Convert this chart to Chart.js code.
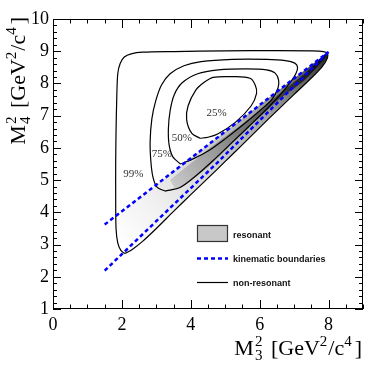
<!DOCTYPE html>
<html lang="en">
<head>
<meta charset="UTF-8">
<title>M3^2 vs M4^2</title>
<script src="https://cdn.jsdelivr.net/npm/chart.js"></script>
<style>
  html, body { margin: 0; padding: 0; background: #fff; }
  #wrap { width: 382px; height: 369px; }
</style>
</head>
<body>
<div id="wrap"><canvas id="dalitz" width="382" height="369"></canvas></div>
<script>
// axis ticks
const xTicks = [0, 2, 4, 6, 8];
const yTicks = [1, 2, 3, 4, 5, 6, 7, 8, 9, 10];

// kinematic boundaries
const upperX = [1.5, 8.0];
const upperY = [3.62, 8.98];
const lowerX = [1.5, 4.75, 8.0];
const lowerY = [2.19, 5.52, 8.98];

// non-resonant contours (closed curves)
const c99x = [2.09, 1.97, 1.88, 1.83, 1.82, 1.82, 1.83, 1.85, 1.88, 1.95, 2.07, 2.27, 2.6, 3.5, 5.0, 6.5, 7.5, 7.85, 7.96, 7.97, 7.8, 7.5, 7.0, 6.5, 6.0, 5.5, 5.0, 4.5, 4.0, 3.5, 3.0, 2.6, 2.3, 2.09];
const c99y = [2.72, 2.82, 3.05, 3.5, 4.5, 5.5, 6.5, 7.5, 8.3, 8.62, 8.82, 8.92, 8.97, 8.99, 9.01, 9.02, 9.01, 8.99, 8.94, 8.8, 8.5, 8.17, 7.66, 7.15, 6.63, 6.1, 5.58, 5.06, 4.55, 4.03, 3.5, 3.1, 2.85, 2.72];
const c75x = [3.25, 3.02, 2.9, 2.84, 2.82, 2.87, 2.98, 3.15, 3.4, 3.8, 4.3, 5.2, 6.2, 6.75, 7.02, 7.1, 7.05, 6.9, 6.6, 6.2, 5.7, 5.2, 4.7, 4.2, 3.7, 3.25];
const c75y = [4.66, 4.78, 5.1, 5.6, 6.2, 6.9, 7.45, 7.95, 8.3, 8.55, 8.68, 8.75, 8.75, 8.71, 8.63, 8.5, 8.3, 8.05, 7.65, 7.2, 6.68, 6.17, 5.66, 5.18, 4.78, 4.66];
const c50x = [3.7, 3.48, 3.37, 3.35, 3.4, 3.52, 3.75, 4.2, 4.8, 5.6, 6.2, 6.45, 6.55, 6.53, 6.35, 6.0, 5.5, 5.0, 4.5, 4.05, 3.7];
const c50y = [5.5, 5.72, 6.1, 6.6, 7.15, 7.65, 8.02, 8.3, 8.42, 8.45, 8.42, 8.32, 8.1, 7.85, 7.5, 7.15, 6.7, 6.28, 5.9, 5.65, 5.5];
const c25x = [4.27, 4.03, 3.88, 3.92, 4.15, 4.38, 4.65, 5.24, 5.72, 5.87, 5.91, 5.75, 5.3, 4.78, 4.5, 4.27];
const c25y = [6.3, 6.45, 6.87, 7.3, 7.8, 8.03, 8.19, 8.21, 8.16, 7.95, 7.69, 7.3, 6.8, 6.43, 6.33, 6.3];

// resonant density (outer region and darker core)
const resX = [1.84, 8.0, 7.97, 7.8, 7.5, 7.0, 6.5, 6.0, 5.5, 5.0, 4.5, 4.0, 3.5, 3.0, 2.6, 2.3, 2.09, 1.97, 1.88, 1.84, 1.84];
const resY = [3.9, 8.98, 8.8, 8.5, 8.17, 7.66, 7.15, 6.63, 6.1, 5.58, 5.06, 4.55, 4.03, 3.5, 3.1, 2.85, 2.72, 2.82, 3.05, 3.5, 3.9];
const coreX = [3.4, 4.5, 5.5, 6.5, 7.3, 7.95, 7.9, 7.3, 6.5, 5.5, 4.5, 3.6, 3.4];
const coreY = [5.0, 5.95, 6.75, 7.62, 8.3, 8.95, 8.8, 8.1, 7.45, 6.45, 5.4, 4.7, 5.0];

// contour labels
const labelText = ['25%', '50%', '75%', '99%'];
const labelX = [4.75, 3.74, 3.16, 2.33];
const labelY = [7.07, 6.30, 5.81, 5.19];

const pts = (xs, ys) => xs.map((v, i) => ({ x: v, y: ys[i] }));

function diagGradient(context, stops) {
  const chart = context.chart;
  const { chartArea, scales } = chart;
  if (!chartArea) return stops[stops.length - 1][1];
  const g = chart.ctx.createLinearGradient(
    scales.x.getPixelForValue(1.9), scales.y.getPixelForValue(3.0),
    scales.x.getPixelForValue(8.0), scales.y.getPixelForValue(8.95));
  stops.forEach(s => g.addColorStop(s[0], s[1]));
  return g;
}

const serif = '"Liberation Serif", "Times New Roman", serif';

function drawTitle(ctx, sub, xEnd, baseY) {
  const big = '22px ' + serif, small = '15px ' + serif;
  const parts = [
    { t: 'M', f: big, dy: 0, gap: 1 },
    { t: '2', f: small, dy: -9, sub: sub, gap: 3 },
    { t: ' [GeV', f: big, dy: 0, gap: 0 },
    { t: '2', f: small, dy: -9, gap: 1 },
    { t: '/c', f: big, dy: 0, gap: 0 },
    { t: '4', f: small, dy: -9, gap: 3 },
    { t: ']', f: big, dy: 0, gap: 0 }
  ];
  let total = 0;
  parts.forEach(p => { ctx.font = p.f; p.w = ctx.measureText(p.t).width; total += p.w + p.gap; });
  let x = xEnd - total;
  ctx.textAlign = 'left';
  ctx.textBaseline = 'alphabetic';
  parts.forEach(p => {
    ctx.font = p.f;
    ctx.fillText(p.t, x, baseY + p.dy);
    if (p.sub) ctx.fillText(p.sub, x, baseY + 5);
    x += p.w + p.gap;
  });
}

const framePlugin = {
  id: 'frame',
  afterDraw(chart) {
    const { ctx, chartArea: a, scales: { x, y } } = chart;
    ctx.save();
    ctx.strokeStyle = '#000';
    ctx.lineWidth = 1;
    ctx.strokeRect(a.left + 0.5, a.top + 0.5, a.width - 1, a.height - 1);

    // inward ticks on all four sides
    ctx.beginPath();
    for (let i = 0; i <= 18; i++) {
      const v = i * 0.5;
      const px = Math.round(x.getPixelForValue(v)) + 0.5;
      const len = (i % 4 === 0) ? 9 : 4.5;
      ctx.moveTo(px, a.bottom); ctx.lineTo(px, a.bottom - len);
      ctx.moveTo(px, a.top); ctx.lineTo(px, a.top + len);
    }
    for (let i = 0; i <= 45; i++) {
      const v = 1 + i * 0.2;
      const py = Math.round(y.getPixelForValue(v)) + 0.5;
      const len = (i % 5 === 0) ? 8 : 4;
      ctx.moveTo(a.left, py); ctx.lineTo(a.left + len, py);
      ctx.moveTo(a.right, py); ctx.lineTo(a.right - len, py);
    }
    ctx.stroke();

    // contour labels
    ctx.fillStyle = '#333';
    ctx.font = '11px ' + serif;
    ctx.textAlign = 'center';
    ctx.textBaseline = 'middle';
    labelText.forEach((t, i) => {
      ctx.fillText(t, x.getPixelForValue(labelX[i]), y.getPixelForValue(labelY[i]));
    });

    // legend
    ctx.fillStyle = '#c8c8c8';
    ctx.fillRect(197.5, 225.5, 30, 16);
    ctx.strokeStyle = '#333';
    ctx.lineWidth = 1.2;
    ctx.strokeRect(197.5, 225.5, 30, 16);
    ctx.beginPath();
    ctx.strokeStyle = '#0000ff';
    ctx.lineWidth = 2.5;
    ctx.setLineDash([4, 3]);
    ctx.moveTo(197, 258.5); ctx.lineTo(228, 258.5);
    ctx.stroke();
    ctx.setLineDash([]);
    ctx.beginPath();
    ctx.strokeStyle = '#000';
    ctx.lineWidth = 1.2;
    ctx.moveTo(197, 282.5); ctx.lineTo(228, 282.5);
    ctx.stroke();
    ctx.fillStyle = '#111';
    ctx.font = 'bold 9px "Liberation Sans", Arial, sans-serif';
    ctx.textAlign = 'left';
    ctx.fillText('resonant', 233, 236);
    ctx.fillText('kinematic boundaries', 233, 260);
    ctx.fillText('non-resonant', 233, 284);

    // axis titles
    ctx.fillStyle = '#000';
    drawTitle(ctx, '3', 362, 355);
    ctx.translate(25, 17);
    ctx.rotate(-Math.PI / 2);
    drawTitle(ctx, '4', 0, 0);
    ctx.restore();
  }
};

const contour = (xs, ys) => ({
  data: pts(xs, ys), showLine: true, borderColor: '#000', borderWidth: 1.2,
  tension: 0.3, pointRadius: 0, fill: false, order: 2
});
const boundary = (xs, ys) => ({
  data: pts(xs, ys), showLine: true, borderColor: '#0000ff', borderWidth: 2.5,
  borderDash: [4, 3], tension: 0, pointRadius: 0, fill: false, order: 1
});

new Chart(document.getElementById('dalitz'), {
  type: 'scatter',
  data: {
    datasets: [
      boundary(upperX, upperY),
      boundary(lowerX, lowerY),
      contour(c25x, c25y),
      contour(c50x, c50y),
      contour(c75x, c75y),
      contour(c99x, c99y),
      {
        data: pts(coreX, coreY), showLine: true, borderWidth: 0, pointRadius: 0,
        tension: 0.2, fill: 'shape', order: 4,
        backgroundColor: c => diagGradient(c, [[0, 'rgba(0,0,0,0)'], [0.25, 'rgba(0,0,0,0.1)'], [0.55, 'rgba(0,0,0,0.3)'], [0.8, 'rgba(0,0,0,0.55)'], [1, 'rgba(0,0,0,0.85)']])
      },
      {
        data: pts(resX, resY), showLine: true, borderWidth: 0, pointRadius: 0,
        tension: 0, fill: 'shape', order: 5,
        backgroundColor: c => diagGradient(c, [[0, '#ffffff'], [0.2, '#f0f0f0'], [0.45, '#d0d0d0'], [0.7, '#a0a0a0'], [0.88, '#606060'], [1, '#202020']])
      }
    ]
  },
  options: {
    responsive: false,
    animation: false,
    events: [],
    layout: { padding: { top: 19, right: 19, left: 0, bottom: 0 } },
    plugins: { legend: { display: false }, tooltip: { enabled: false } },
    scales: {
      x: {
        type: 'linear', min: 0, max: 9,
        grid: { display: false, drawTicks: false },
        border: { display: false },
        afterBuildTicks: s => { s.ticks = xTicks.map(v => ({ value: v })); },
        afterFit: s => { s.height = 60; },
        ticks: { font: { family: serif, size: 18 }, color: '#000', padding: 5, maxRotation: 0, autoSkip: false }
      },
      y: {
        type: 'linear', min: 1, max: 10,
        grid: { display: false, drawTicks: false },
        border: { display: false },
        afterBuildTicks: s => { s.ticks = yTicks.map(v => ({ value: v })); },
        afterFit: s => { s.width = 53; },
        ticks: { font: { family: serif, size: 18 }, color: '#000', padding: 4, autoSkip: false }
      }
    }
  },
  plugins: [framePlugin]
});
</script>
</body>
</html>
